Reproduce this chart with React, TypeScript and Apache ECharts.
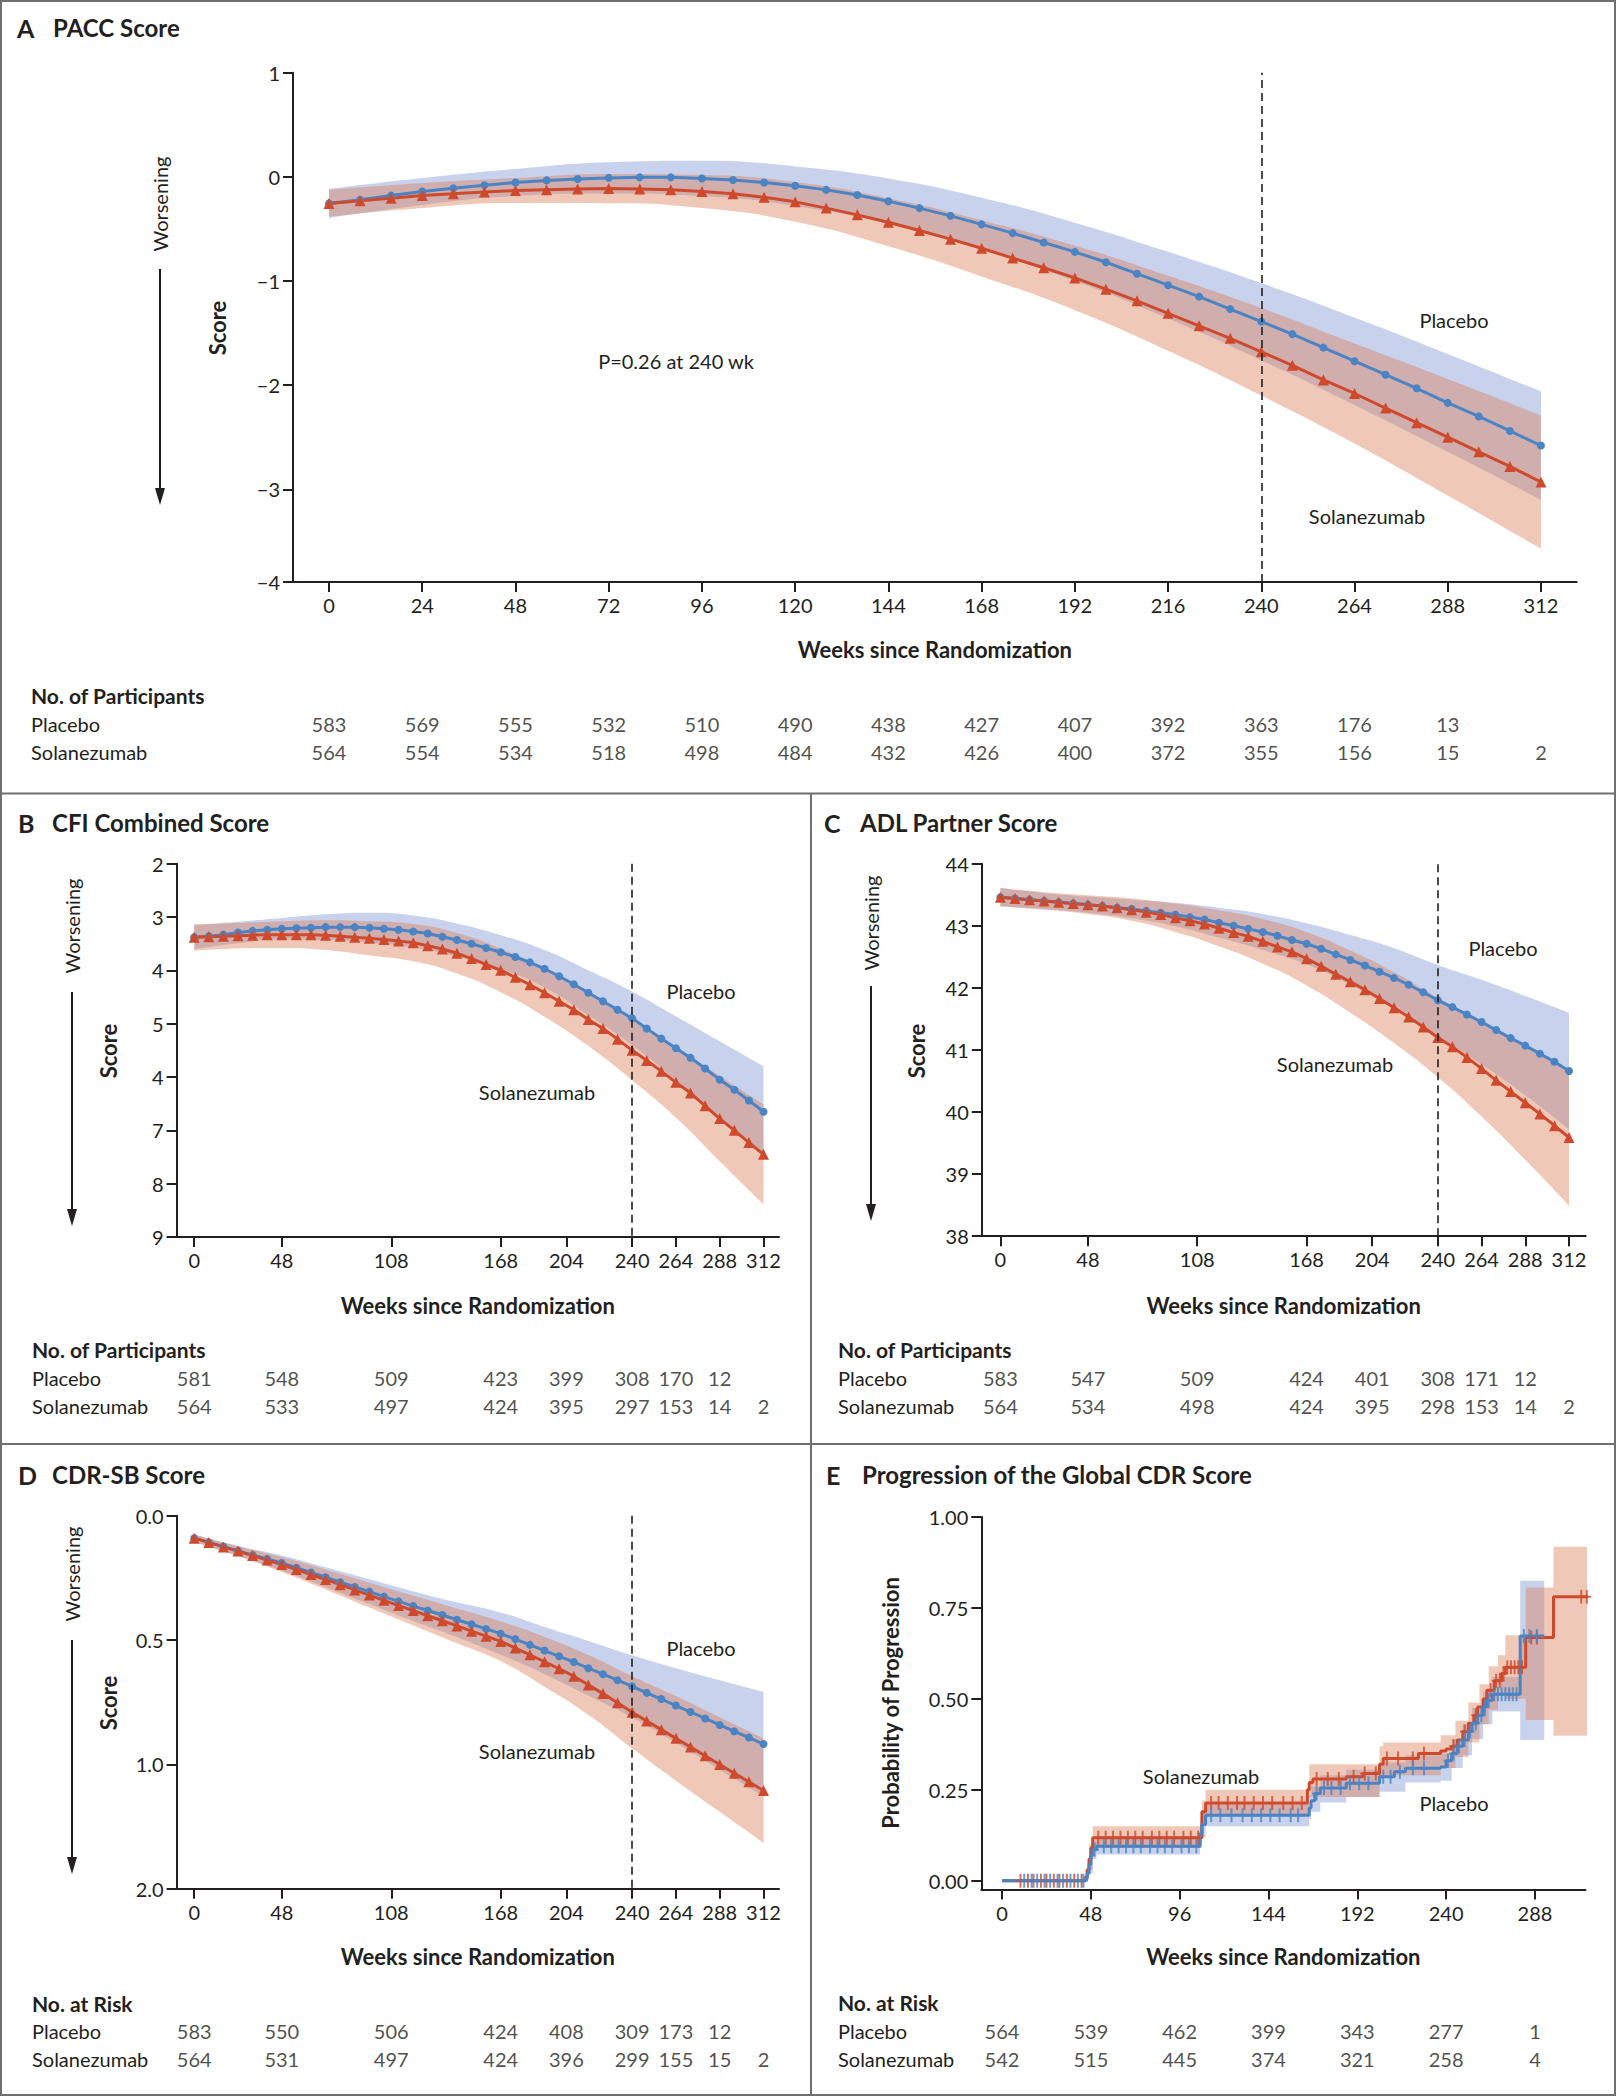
import React, { useEffect, useRef } from "react";
import * as echarts from "echarts";

const FONT = 'Lato, "Noto Sans", "DejaVu Sans", sans-serif';
const INK = "#231f20";
const BLUE = "#4a84c5";
const RED = "#cf4a2c";
const BLUE_BAND = "rgba(125,147,212,0.42)";
const RED_BAND = "rgba(220,125,85,0.42)";

// ---------- shared weeks ----------
const WEEKS = [0, 8, 16, 24, 32, 40, 48, 56, 64, 72, 80, 88, 96, 104, 112, 120, 128, 136, 144, 152, 160, 168, 176, 184, 192, 200, 208, 216, 224, 232, 240, 248, 256, 264, 272, 280, 288, 296, 304, 312];
const BAND_WEEKS = [0, 24, 48, 72, 96, 120, 144, 168, 192, 216, 240, 264, 288, 312];

// ---------- A: PACC ----------
const PACC_PLACEBO = [-0.255, -0.22, -0.18, -0.14, -0.11, -0.08, -0.054, -0.034, -0.02, -0.01, -0.005, -0.005, -0.015, -0.03, -0.055, -0.086, -0.125, -0.175, -0.235, -0.3, -0.375, -0.456, -0.54, -0.63, -0.72, -0.82, -0.93, -1.04, -1.15, -1.27, -1.39, -1.51, -1.64, -1.77, -1.9, -2.03, -2.17, -2.3, -2.44, -2.58];
const PACC_SOLA = [-0.255, -0.23, -0.206, -0.18, -0.162, -0.145, -0.132, -0.123, -0.116, -0.113, -0.116, -0.125, -0.14, -0.162, -0.196, -0.24, -0.3, -0.365, -0.436, -0.515, -0.598, -0.686, -0.78, -0.873, -0.97, -1.078, -1.19, -1.31, -1.43, -1.55, -1.68, -1.81, -1.95, -2.08, -2.22, -2.36, -2.5, -2.64, -2.78, -2.93];
const PACC_PLACEBO_LO = [-0.395, -0.27, -0.184, -0.16, -0.185, -0.28, -0.455, -0.7, -1.0, -1.36, -1.76, -2.19, -2.64, -3.1];
const PACC_PLACEBO_HI = [-0.115, -0.01, 0.076, 0.14, 0.155, 0.1, -0.015, -0.2, -0.44, -0.72, -1.02, -1.35, -1.7, -2.06];
const PACC_SOLA_LO = [-0.385, -0.3, -0.252, -0.253, -0.3, -0.43, -0.666, -0.956, -1.28, -1.67, -2.1, -2.56, -3.06, -3.57];
const PACC_SOLA_HI = [-0.125, -0.06, -0.012, 0.027, 0.018, -0.05, -0.206, -0.416, -0.66, -0.95, -1.26, -1.6, -1.94, -2.29];
const TICKS_A = [0, 24, 48, 72, 96, 120, 144, 168, 192, 216, 240, 264, 288, 312];
const Y_TICKS_A = [-3.89, -3, -2, -1, 0, 1];
const RISK_A_PLACEBO = [583, 569, 555, 532, 510, 490, 438, 427, 407, 392, 363, 176, 13];
const RISK_A_SOLA = [564, 554, 534, 518, 498, 484, 432, 426, 400, 372, 355, 156, 15, 2];

// ---------- B: CFI ----------
const CFI_PLACEBO = [3.38, 3.36, 3.33, 3.29, 3.26, 3.24, 3.22, 3.21, 3.2, 3.19, 3.19, 3.19, 3.2, 3.22, 3.24, 3.27, 3.31, 3.37, 3.43, 3.5, 3.58, 3.66, 3.75, 3.85, 3.97, 4.11, 4.26, 4.42, 4.58, 4.74, 4.9, 5.09, 5.28, 5.46, 5.64, 5.84, 6.05, 6.24, 6.44, 6.65];
const CFI_SOLA = [3.38, 3.37, 3.36, 3.35, 3.34, 3.33, 3.33, 3.33, 3.33, 3.34, 3.36, 3.38, 3.4, 3.42, 3.45, 3.48, 3.54, 3.6, 3.68, 3.78, 3.89, 4.0, 4.13, 4.27, 4.42, 4.58, 4.74, 4.92, 5.09, 5.29, 5.5, 5.69, 5.89, 6.1, 6.3, 6.54, 6.78, 7.0, 7.23, 7.45];
const CFI_PLACEBO_LO = [3.16, 3.09, 3.02, 2.95, 2.92, 2.97, 3.12, 3.34, 3.62, 4.0, 4.4, 4.86, 5.33, 5.8];
const CFI_PLACEBO_HI = [3.6, 3.49, 3.42, 3.43, 3.48, 3.57, 3.74, 3.98, 4.32, 4.84, 5.4, 6.06, 6.77, 7.5];
const CFI_SOLA_LO = [3.13, 3.11, 3.08, 3.06, 3.08, 3.13, 3.3, 3.59, 3.97, 4.42, 4.94, 5.44, 5.98, 6.51];
const CFI_SOLA_HI = [3.63, 3.59, 3.58, 3.62, 3.72, 3.83, 4.06, 4.41, 4.87, 5.42, 6.06, 6.76, 7.58, 8.39];
const TICKS_BCD = [0, 48, 108, 168, 204, 240, 264, 288, 312];
const RISK_B_PLACEBO = [581, 548, 509, 423, 399, 308, 170, 12];
const RISK_B_SOLA = [564, 533, 497, 424, 395, 297, 153, 14, 2];

// ---------- C: ADL ----------
const ADL_PLACEBO = [43.46, 43.44, 43.42, 43.4, 43.38, 43.36, 43.34, 43.32, 43.29, 43.27, 43.24, 43.21, 43.18, 43.14, 43.1, 43.05, 43.0, 42.95, 42.9, 42.84, 42.77, 42.71, 42.63, 42.54, 42.45, 42.36, 42.26, 42.16, 42.05, 41.93, 41.8, 41.69, 41.57, 41.45, 41.32, 41.19, 41.07, 40.94, 40.81, 40.66];
const ADL_SOLA = [43.46, 43.44, 43.42, 43.4, 43.38, 43.36, 43.34, 43.32, 43.29, 43.26, 43.22, 43.18, 43.13, 43.08, 43.03, 42.96, 42.89, 42.83, 42.75, 42.66, 42.58, 42.47, 42.35, 42.22, 42.1, 41.97, 41.83, 41.68, 41.53, 41.37, 41.2, 41.05, 40.88, 40.7, 40.51, 40.33, 40.15, 39.97, 39.78, 39.59];
const ADL_PLACEBO_LO = [43.31, 43.27, 43.21, 43.12, 42.99, 42.81, 42.61, 42.38, 42.05, 41.68, 41.23, 40.77, 40.27, 39.72];
const ADL_PLACEBO_HI = [43.61, 43.53, 43.47, 43.42, 43.37, 43.29, 43.19, 43.04, 42.85, 42.64, 42.37, 42.13, 41.87, 41.6];
const ADL_SOLA_LO = [43.31, 43.26, 43.19, 43.08, 42.9, 42.67, 42.39, 42.04, 41.6, 41.11, 40.56, 39.93, 39.23, 38.49];
const ADL_SOLA_HI = [43.61, 43.54, 43.49, 43.44, 43.36, 43.25, 43.11, 42.9, 42.6, 42.25, 41.84, 41.47, 41.07, 40.69];
const RISK_C_PLACEBO = [583, 547, 509, 424, 401, 308, 171, 12];
const RISK_C_SOLA = [564, 534, 498, 424, 395, 298, 153, 14, 2];

// ---------- D: CDR-SB ----------
const CDR_PLACEBO = [0.09, 0.107, 0.124, 0.141, 0.158, 0.174, 0.19, 0.209, 0.228, 0.247, 0.267, 0.286, 0.305, 0.325, 0.344, 0.363, 0.381, 0.399, 0.418, 0.436, 0.455, 0.474, 0.496, 0.519, 0.542, 0.565, 0.588, 0.613, 0.637, 0.661, 0.686, 0.712, 0.737, 0.763, 0.789, 0.815, 0.841, 0.867, 0.892, 0.918];
const CDR_SOLA = [0.09, 0.107, 0.125, 0.142, 0.16, 0.178, 0.196, 0.216, 0.236, 0.256, 0.277, 0.298, 0.319, 0.34, 0.361, 0.381, 0.402, 0.422, 0.443, 0.464, 0.484, 0.505, 0.532, 0.559, 0.587, 0.615, 0.645, 0.68, 0.715, 0.752, 0.79, 0.825, 0.86, 0.895, 0.93, 0.965, 1.0, 1.035, 1.07, 1.105];
const CDR_PLACEBO_LO = [0.075, 0.121, 0.16, 0.207, 0.255, 0.303, 0.348, 0.389, 0.447, 0.503, 0.561, 0.613, 0.661, 0.708];
const CDR_PLACEBO_HI = [0.105, 0.161, 0.22, 0.287, 0.355, 0.423, 0.488, 0.559, 0.637, 0.723, 0.811, 0.913, 1.021, 1.128];
const CDR_SOLA_LO = [0.075, 0.122, 0.166, 0.216, 0.269, 0.321, 0.373, 0.425, 0.487, 0.56, 0.645, 0.725, 0.81, 0.895];
const CDR_SOLA_HI = [0.105, 0.162, 0.226, 0.296, 0.369, 0.441, 0.513, 0.585, 0.687, 0.8, 0.935, 1.065, 1.19, 1.315];
const Y_TICKS_D = [0, 0.5, 1, 1.5];
const Y_LABELS_D = ["0.0", "0.5", "1.0", "2.0"];
const RISK_D_PLACEBO = [583, 550, 506, 424, 408, 309, 173, 12];
const RISK_D_SOLA = [564, 531, 497, 424, 396, 299, 155, 15, 2];

// ---------- E: Global CDR progression (Kaplan-Meier) ----------
const KM_PLACEBO_T = [0, 45, 46, 47, 48, 49, 51, 107, 108, 110, 166, 167, 169, 172, 186, 204, 212, 218, 237, 240, 243, 246, 249, 252, 254, 257, 260, 262, 265, 280, 293];
const KM_PLACEBO_P = [0, 0.005, 0.02, 0.045, 0.07, 0.085, 0.095, 0.13, 0.155, 0.18, 0.2, 0.22, 0.24, 0.255, 0.268, 0.286, 0.3, 0.309, 0.313, 0.33, 0.35, 0.37, 0.387, 0.41, 0.433, 0.455, 0.478, 0.496, 0.513, 0.673, 0.673];
const KM_SOLA_T = [0, 45, 46, 47, 48, 49, 108, 110, 165, 166, 168, 186, 195, 204, 206, 225, 237, 240, 243, 246, 249, 252, 255, 257, 260, 262, 266, 270, 272, 283, 298, 318];
const KM_SOLA_P = [0, 0.01, 0.03, 0.06, 0.09, 0.118, 0.19, 0.214, 0.25, 0.27, 0.28, 0.286, 0.295, 0.32, 0.336, 0.35, 0.357, 0.362, 0.37, 0.387, 0.41, 0.433, 0.455, 0.478, 0.5, 0.524, 0.55, 0.57, 0.587, 0.669, 0.781, 0.781];
const KM_PLACEBO_BAND_T = [47, 49, 51, 107, 108, 110, 166, 167, 172, 186, 204, 218, 237, 243, 249, 254, 260, 265, 280, 293];
const KM_PLACEBO_BAND_LO = [0.02, 0.06, 0.072, 0.1, 0.12, 0.15, 0.17, 0.19, 0.215, 0.23, 0.245, 0.27, 0.275, 0.31, 0.345, 0.39, 0.43, 0.465, 0.387, 0.387];
const KM_PLACEBO_BAND_HI = [0.07, 0.11, 0.12, 0.16, 0.19, 0.215, 0.235, 0.26, 0.29, 0.305, 0.325, 0.345, 0.35, 0.39, 0.43, 0.475, 0.52, 0.56, 0.825, 0.825];
const KM_SOLA_BAND_T = [47, 49, 108, 110, 166, 204, 206, 237, 245, 252, 258, 263, 268, 272, 283, 298, 318];
const KM_SOLA_BAND_LO = [0.03, 0.09, 0.15, 0.18, 0.23, 0.28, 0.29, 0.31, 0.34, 0.38, 0.43, 0.47, 0.51, 0.5, 0.442, 0.399, 0.399];
const KM_SOLA_BAND_HI = [0.1, 0.15, 0.22, 0.25, 0.32, 0.37, 0.38, 0.4, 0.44, 0.49, 0.54, 0.59, 0.62, 0.675, 0.806, 0.918, 0.918];
const CENSOR_PLACEBO = [12, 16, 19, 23, 26, 30, 33, 37, 41, 44, 50, 55, 59, 63, 67, 71, 75, 80, 84, 88, 92, 97, 101, 105, 113, 118, 124, 130, 135, 140, 145, 150, 156, 160, 170, 174, 178, 183, 188, 193, 198, 206, 210, 215, 222, 228, 241, 244, 247, 250, 253, 256, 259, 261, 263, 266, 268, 270, 272, 274, 276, 278, 282, 285, 289];
const CENSOR_SOLA = [10, 14, 17, 21, 24, 28, 31, 35, 39, 43, 52, 56, 60, 64, 68, 72, 76, 81, 85, 89, 93, 98, 102, 106, 113, 117, 122, 127, 131, 136, 141, 146, 152, 157, 162, 170, 176, 182, 190, 196, 202, 208, 214, 222, 228, 244, 250, 256, 264, 267, 269, 271, 273, 275, 277, 279, 281, 286, 289, 313, 316];
const TICKS_E = [0, 48, 96, 144, 192, 240, 288];
const Y_TICKS_E = [0, 0.25, 0.5, 0.75, 1];
const RISK_E_PLACEBO = [564, 539, 462, 399, 343, 277, 1];
const RISK_E_SOLA = [542, 515, 445, 374, 321, 258, 4];

// ---------- layout (pixels) ----------
const PANELS = [
  { left: 293, top: 72.7, width: 1283.7, height: 509.3, xmin: -9.27, xmax: 321.2, tableTop: 710, rowLabelX: 31 },
  { left: 176.6, top: 863.7, width: 602.4, height: 373.3, xmin: -9.65, xmax: 320.5, tableTop: 1364, rowLabelX: 32 },
  { left: 981.8, top: 863.7, width: 603.8, height: 372.5, xmin: -10.2, xmax: 321.1, tableTop: 1364, rowLabelX: 838 },
  { left: 176.6, top: 1515.8, width: 602.4, height: 373, xmin: -9.65, xmax: 320.5, tableTop: 2017, rowLabelX: 32 },
  { left: 981.3, top: 1517, width: 604.2, height: 372.5, xmin: -11.2, xmax: 315.3, tableTop: 2017, rowLabelX: 838 },
];

const pairs = (xs: number[], ys: number[]) => ys.map((y, i) => [xs[i], y]);

function stepValueAt(ts: number[], ps: number[], t: number) {
  let v = ps[0];
  for (let i = 0; i < ts.length; i++) if (ts[i] <= t) v = ps[i];
  return v;
}

// Confidence band: the value is put in dimension 0 (so that it is the stacked one), week in dimension 1.
function bandSeries(id: string, xs: number[], lo: number[], hi: number[], color: string, idx: number, opts: any = {}) {
  const common = {
    type: "line",
    xAxisIndex: idx,
    yAxisIndex: idx,
    stack: id,
    stackStrategy: "all",
    symbol: "none",
    silent: true,
    encode: { x: 1, y: 0 },
    lineStyle: { width: 0, opacity: 0 },
    z: 1,
    ...opts,
  };
  return [
    { ...common, name: id + "-lo", data: xs.map((x, i) => [lo[i], x]) },
    { ...common, name: id + "-hi", data: xs.map((x, i) => [+(hi[i] - lo[i]).toFixed(4), x]), areaStyle: { color, opacity: 1 } },
  ];
}

function curveSeries(idx: number, ys: number[], color: string, symbol: string, size: number, extra: any = {}) {
  return {
    type: "line",
    xAxisIndex: idx,
    yAxisIndex: idx,
    data: pairs(WEEKS, ys),
    symbol,
    symbolSize: size,
    showAllSymbol: true,
    lineStyle: { color, width: 3 },
    itemStyle: { color },
    z: 3,
    silent: true,
    ...extra,
  };
}

const dashedAt240 = {
  symbol: ["none", "none"],
  silent: true,
  label: { show: false },
  lineStyle: { type: [8, 5], color: INK, width: 1.6 },
  data: [{ xAxis: 240 }],
};

function mainXAxis(idx: number, ticks: number[], nameGap: number) {
  const p = PANELS[idx];
  return {
    type: "value",
    gridIndex: idx,
    min: p.xmin,
    max: p.xmax,
    axisLine: { show: true, onZero: false, lineStyle: { color: INK, width: 2 } },
    axisTick: { show: true, customValues: ticks, length: 10, lineStyle: { color: INK, width: 2 } },
    axisLabel: { customValues: ticks, fontSize: 20, color: INK, fontFamily: FONT, margin: 13 },
    splitLine: { show: false },
    name: "Weeks since Randomization",
    nameLocation: "middle",
    nameGap,
    nameTextStyle: { fontSize: 22, fontWeight: "bold", color: INK, fontFamily: FONT },
  };
}

function mainYAxis(idx: number, cfg: any) {
  return {
    type: "value",
    gridIndex: idx,
    axisLine: { show: true, onZero: false, lineStyle: { color: INK, width: 2 } },
    axisTick: { show: true, length: 10, lineStyle: { color: INK, width: 2 }, customValues: cfg.ticks },
    axisLabel: { fontSize: 20, color: INK, fontFamily: FONT, margin: 13, customValues: cfg.ticks, formatter: cfg.formatter },
    splitLine: { show: false },
    ...cfg.extra,
  };
}

function tableAxes(idx: number) {
  const p = PANELS[idx];
  return {
    x: { type: "value", gridIndex: 5 + idx, min: p.xmin, max: p.xmax, show: false },
    y: {
      type: "category",
      gridIndex: 5 + idx,
      data: ["Placebo", "Solanezumab"],
      inverse: true,
      axisLine: { show: false },
      axisTick: { show: false },
      splitLine: { show: false },
      axisLabel: { align: "left", margin: p.left - p.rowLabelX, fontSize: 20, color: INK, fontFamily: FONT },
    },
  };
}

function tableSeries(idx: number, ticks: number[], placebo: number[], sola: number[]) {
  const data: any[] = [];
  placebo.forEach((n, i) => data.push([ticks[i], 0, n]));
  sola.forEach((n, i) => data.push([ticks[i], 1, n]));
  return {
    type: "scatter",
    xAxisIndex: 5 + idx,
    yAxisIndex: 5 + idx,
    data,
    symbolSize: 1,
    silent: true,
    itemStyle: { color: "rgba(0,0,0,0)" },
    label: { show: true, position: "inside", formatter: (p: any) => String(p.value[2]), fontSize: 20, color: INK, fontFamily: FONT },
  };
}

const PLUS = "path://M3.5,0h2v6h3.5v2h-3.5v6h-2v-6h-3.5v-2h3.5z";

function txt(x: number, y: number, text: string, size = 20, weight = "normal", align = "center", rotation = 0) {
  return {
    type: "text",
    x,
    y,
    rotation,
    silent: true,
    z: 10,
    style: { text, fill: INK, fontSize: size, fontWeight: weight, fontFamily: FONT, align, verticalAlign: "middle" },
  };
}

function arrow(x: number, y0: number, y1: number) {
  return [
    { type: "line", silent: true, shape: { x1: x, y1: y0, x2: x, y2: y1 - 10 }, style: { stroke: INK, lineWidth: 2 } },
    { type: "polygon", silent: true, shape: { points: [[x - 5, y1 - 17], [x + 5, y1 - 17], [x, y1]] }, style: { fill: INK } },
  ];
}

function buildOption() {
  const grids = PANELS.map((p) => ({ left: p.left, top: p.top, width: p.width, height: p.height }));
  PANELS.forEach((p) => grids.push({ left: p.left, top: p.tableTop, width: p.width, height: 56 }));

  const minus = (v: number) => (v < 0 ? "\u2212" + Math.abs(v) : String(v));

  const xAxes: any[] = [
    mainXAxis(0, TICKS_A, 56),
    mainXAxis(1, TICKS_BCD, 57),
    mainXAxis(2, TICKS_BCD, 58),
    mainXAxis(3, TICKS_BCD, 57),
    mainXAxis(4, TICKS_E, 56),
  ];
  const yAxes: any[] = [
    mainYAxis(0, { ticks: Y_TICKS_A, formatter: (v: number) => (v < -3.5 ? "\u22124" : minus(v)), extra: { min: -3.89, max: 1 } }),
    mainYAxis(1, { ticks: [2, 3, 4, 5, 6, 7, 8, 9], formatter: (v: number) => (v === 6 ? "4" : String(v)), extra: { min: 2, max: 9, inverse: true } }),
    mainYAxis(2, { ticks: [38, 39, 40, 41, 42, 43, 44], formatter: (v: number) => String(v), extra: { min: 38, max: 44 } }),
    mainYAxis(3, { ticks: Y_TICKS_D, formatter: (v: number) => Y_LABELS_D[Y_TICKS_D.indexOf(v)], extra: { min: 0, max: 1.5, inverse: true } }),
    mainYAxis(4, { ticks: Y_TICKS_E, formatter: (v: number) => v.toFixed(2), extra: { min: -0.024, max: 1 } }),
  ];
  for (let i = 0; i < 5; i++) {
    const t = tableAxes(i);
    xAxes.push(t.x);
    yAxes.push(t.y);
  }

  const smooth = { smooth: true };
  const series: any[] = [
    // A
    ...bandSeries("bandA-p", BAND_WEEKS, PACC_PLACEBO_LO, PACC_PLACEBO_HI, BLUE_BAND, 0, smooth),
    ...bandSeries("bandA-s", BAND_WEEKS, PACC_SOLA_LO, PACC_SOLA_HI, RED_BAND, 0, smooth),
    curveSeries(0, PACC_PLACEBO, BLUE, "circle", 8, { markLine: dashedAt240 }),
    curveSeries(0, PACC_SOLA, RED, "triangle", 11),
    // B
    ...bandSeries("bandB-p", BAND_WEEKS, CFI_PLACEBO_LO, CFI_PLACEBO_HI, BLUE_BAND, 1, smooth),
    ...bandSeries("bandB-s", BAND_WEEKS, CFI_SOLA_LO, CFI_SOLA_HI, RED_BAND, 1, smooth),
    curveSeries(1, CFI_PLACEBO, BLUE, "circle", 8, { markLine: dashedAt240 }),
    curveSeries(1, CFI_SOLA, RED, "triangle", 11),
    // C
    ...bandSeries("bandC-p", BAND_WEEKS, ADL_PLACEBO_LO, ADL_PLACEBO_HI, BLUE_BAND, 2, smooth),
    ...bandSeries("bandC-s", BAND_WEEKS, ADL_SOLA_LO, ADL_SOLA_HI, RED_BAND, 2, smooth),
    curveSeries(2, ADL_PLACEBO, BLUE, "circle", 8, { markLine: dashedAt240 }),
    curveSeries(2, ADL_SOLA, RED, "triangle", 11),
    // D
    ...bandSeries("bandD-p", BAND_WEEKS, CDR_PLACEBO_LO, CDR_PLACEBO_HI, BLUE_BAND, 3, smooth),
    ...bandSeries("bandD-s", BAND_WEEKS, CDR_SOLA_LO, CDR_SOLA_HI, RED_BAND, 3, smooth),
    curveSeries(3, CDR_PLACEBO, BLUE, "circle", 8, { markLine: dashedAt240 }),
    curveSeries(3, CDR_SOLA, RED, "triangle", 11),
    // E
    ...bandSeries("bandE-p", KM_PLACEBO_BAND_T, KM_PLACEBO_BAND_LO, KM_PLACEBO_BAND_HI, BLUE_BAND, 4, { step: "end", clip: false }),
    ...bandSeries("bandE-s", KM_SOLA_BAND_T, KM_SOLA_BAND_LO, KM_SOLA_BAND_HI, RED_BAND, 4, { step: "end", clip: false }),
    {
      type: "line", xAxisIndex: 4, yAxisIndex: 4, step: "end", symbol: "none", clip: false, silent: true, z: 3,
      data: pairs(KM_SOLA_T, KM_SOLA_P), lineStyle: { color: RED, width: 3 },
    },
    {
      type: "line", xAxisIndex: 4, yAxisIndex: 4, step: "end", symbol: "none", clip: false, silent: true, z: 3,
      data: pairs(KM_PLACEBO_T, KM_PLACEBO_P), lineStyle: { color: BLUE, width: 3 },
    },
    {
      type: "scatter", xAxisIndex: 4, yAxisIndex: 4, symbol: PLUS, symbolSize: [9, 14], clip: false, silent: true, z: 4,
      itemStyle: { color: RED },
      data: CENSOR_SOLA.map((t) => [t, stepValueAt(KM_SOLA_T, KM_SOLA_P, t)]),
    },
    {
      type: "scatter", xAxisIndex: 4, yAxisIndex: 4, symbol: PLUS, symbolSize: [9, 14], clip: false, silent: true, z: 4,
      itemStyle: { color: BLUE },
      data: CENSOR_PLACEBO.map((t) => [t, stepValueAt(KM_PLACEBO_T, KM_PLACEBO_P, t)]),
    },
    // tables
    tableSeries(0, TICKS_A, RISK_A_PLACEBO, RISK_A_SOLA),
    tableSeries(1, TICKS_BCD, RISK_B_PLACEBO, RISK_B_SOLA),
    tableSeries(2, TICKS_BCD, RISK_C_PLACEBO, RISK_C_SOLA),
    tableSeries(3, TICKS_BCD, RISK_D_PLACEBO, RISK_D_SOLA),
    tableSeries(4, TICKS_E, RISK_E_PLACEBO, RISK_E_SOLA),
  ];

  const ROT = Math.PI / 2;
  const graphic: any[] = [
    // frame
    { type: "rect", silent: true, shape: { x: 1, y: 1, width: 1614, height: 2094 }, style: { fill: "none", stroke: "#6f6f6f", lineWidth: 2 } },
    { type: "line", silent: true, shape: { x1: 1, y1: 793.5, x2: 1615, y2: 793.5 }, style: { stroke: "#6f6f6f", lineWidth: 2 } },
    { type: "line", silent: true, shape: { x1: 1, y1: 1444, x2: 1615, y2: 1444 }, style: { stroke: "#6f6f6f", lineWidth: 2 } },
    { type: "line", silent: true, shape: { x1: 811, y1: 793.5, x2: 811, y2: 2095 }, style: { stroke: "#6f6f6f", lineWidth: 2 } },
    // titles
    txt(17, 27.5, "A", 25, "bold", "left"),
    txt(53, 27.5, "PACC Score", 24, "bold", "left"),
    txt(18, 822.8, "B", 25, "bold", "left"),
    txt(52, 822.8, "CFI Combined Score", 24, "bold", "left"),
    txt(824, 822.8, "C", 25, "bold", "left"),
    txt(860, 822.8, "ADL Partner Score", 24, "bold", "left"),
    txt(18, 1474.5, "D", 25, "bold", "left"),
    txt(52, 1474.5, "CDR-SB Score", 24, "bold", "left"),
    txt(826, 1474.5, "E", 25, "bold", "left"),
    txt(862, 1474.5, "Progression of the Global CDR Score", 24, "bold", "left"),
    // y-axis titles
    txt(160, 204, "Worsening", 20, "normal", "center", ROT),
    ...arrow(160, 269, 505),
    txt(217, 328, "Score", 22, "bold", "center", ROT),
    txt(72, 926, "Worsening", 20, "normal", "center", ROT),
    ...arrow(72, 992, 1226),
    txt(108.5, 1051, "Score", 22, "bold", "center", ROT),
    txt(871, 923, "Worsening", 20, "normal", "center", ROT),
    ...arrow(871, 986, 1221),
    txt(916, 1051, "Score", 22, "bold", "center", ROT),
    txt(72, 1574, "Worsening", 20, "normal", "center", ROT),
    ...arrow(72, 1640, 1874),
    txt(108.5, 1703, "Score", 22, "bold", "center", ROT),
    txt(890, 1703, "Probability of Progression", 22, "bold", "center", ROT),
    // annotations
    txt(676, 361, "P=0.26 at 240 wk", 20),
    txt(1454, 320, "Placebo", 20),
    txt(1367, 516, "Solanezumab", 20),
    txt(701, 991, "Placebo", 20),
    txt(537, 1092, "Solanezumab", 20),
    txt(1503, 948, "Placebo", 20),
    txt(1335, 1064, "Solanezumab", 20),
    txt(701, 1648, "Placebo", 20),
    txt(537, 1751, "Solanezumab", 20),
    txt(1201, 1776, "Solanezumab", 20),
    txt(1454, 1803, "Placebo", 20),
    // table headers
    txt(31, 695, "No. of Participants", 21, "bold", "left"),
    txt(32, 1349, "No. of Participants", 21, "bold", "left"),
    txt(838, 1349, "No. of Participants", 21, "bold", "left"),
    txt(32, 2003, "No. at Risk", 21, "bold", "left"),
    txt(838, 2002, "No. at Risk", 21, "bold", "left"),
  ];

  return {
    animation: false,
    backgroundColor: "#ffffff",
    textStyle: { fontFamily: FONT, color: INK },
    grid: grids,
    xAxis: xAxes,
    yAxis: yAxes,
    series,
    graphic,
  };
}

export default function App() {
  const ref = useRef<HTMLDivElement>(null);
  useEffect(() => {
    if (!ref.current) return;
    const chart = echarts.init(ref.current, undefined, { renderer: "svg" });
    chart.setOption(buildOption() as any);
    return () => chart.dispose();
  }, []);
  return (
    <div
      ref={ref}
      style={{ position: "absolute", left: 0, top: 0, width: 1619, height: 2100, background: "#fff" }}
    />
  );
}
